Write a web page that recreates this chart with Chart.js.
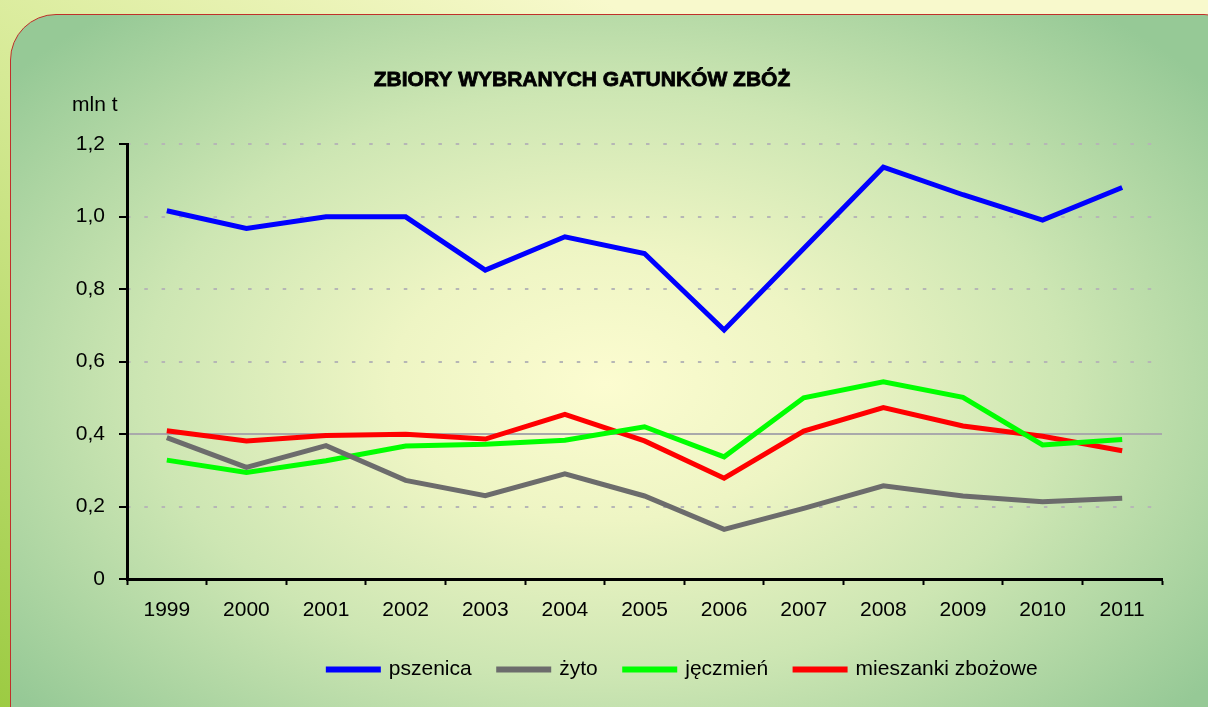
<!DOCTYPE html>
<html>
<head>
<meta charset="utf-8">
<title>Zbiory wybranych gatunków zbóż</title>
<script src="https://cdn.jsdelivr.net/npm/chart.js@4"></script>
<style>
    html, body { margin: 0; padding: 0; }
    body {
        width: 1208px; height: 707px; overflow: hidden; position: relative;
        background: linear-gradient(to top right, #9ccb42 0%, #d6ea96 45%, #f8f9cc 75%);
    }
    #panel {
        position: absolute; left: 10px; top: 14px; width: 1240px; height: 740px;
        box-sizing: border-box; border: 1.5px solid #c0302a; border-radius: 46px;
        background: radial-gradient(ellipse 62% 66% at 48% 50%, #fcfcd0 0%, #eef5c4 28%, #cde6b3 60%, #96c996 100%);
    }
    #wrap { position: absolute; left: 0; top: 0; width: 1208px; height: 707px; }
</style>
</head>
<body>
<div id="panel"></div>
<div id="wrap"><canvas id="wykres" width="1208" height="707"></canvas></div>

<script>
// ---------- Dane (mln t) ----------
const lata = ['1999', '2000', '2001', '2002', '2003', '2004', '2005', '2006', '2007', '2008', '2009', '2010', '2011'];
const pszenica  = [1.016, 0.967, 0.999, 0.999, 0.852, 0.944, 0.898, 0.687, 0.912, 1.136, 1.060, 0.990, 1.080];
const zyto      = [0.390, 0.308, 0.368, 0.272, 0.230, 0.290, 0.229, 0.137, 0.195, 0.257, 0.229, 0.213, 0.223];
const jeczmien  = [0.328, 0.294, 0.326, 0.367, 0.372, 0.383, 0.420, 0.337, 0.500, 0.544, 0.501, 0.370, 0.385];
const mieszanki = [0.409, 0.381, 0.396, 0.399, 0.386, 0.454, 0.381, 0.278, 0.408, 0.473, 0.422, 0.394, 0.354];
const etykietyY = ['0', '0,2', '0,4', '0,6', '0,8', '1,0', '1,2'];

const FONT = "'Liberation Sans', Arial, sans-serif";

// tytuł i jednostka rysowane na canvasie
const napisy = {
    id: 'napisy',
    afterDraw(chart) {
        const c = chart.ctx;
        c.save();
        c.fillStyle = '#000';
        c.strokeStyle = '#000';
        c.textBaseline = 'alphabetic';
        c.font = 'bold 21px ' + FONT;
        c.textAlign = 'center';
        c.lineWidth = 0.8;
        c.fillText('ZBIORY WYBRANYCH GATUNKÓW ZBÓŻ', 582, 86);
        c.strokeText('ZBIORY WYBRANYCH GATUNKÓW ZBÓŻ', 582, 86);
        c.font = '21px ' + FONT;
        c.textAlign = 'left';
        c.fillText('mln t', 72, 111);
        c.restore();
    }
};

// przesunięcie legendy pod wykresem
const legendaPrzesun = {
    id: 'legendaPrzesun',
    afterLayout(chart) {
        const lg = chart.legend;
        if (!lg) return;
        lg.left += 102; lg.right += 102;
        lg.top += 3; lg.bottom += 3;
    }
};

function linia(label, data, kolor, szer) {
    return {
        label: label, data: data,
        borderColor: kolor, backgroundColor: kolor,
        borderWidth: szer, pointRadius: 0, pointHoverRadius: 0,
        tension: 0, fill: false
    };
}

const jest04 = c => c.tick && Math.abs(c.tick.value - 0.4) < 1e-6;

new Chart(document.getElementById('wykres').getContext('2d'), {
    type: 'line',
    data: {
        labels: lata,
        datasets: [
            linia('pszenica', pszenica, '#0000ff', 5),
            linia('żyto', zyto, '#6c6c6c', 5),
            linia('jęczmień', jeczmien, '#00ff00', 5),
            linia('mieszanki zbożowe', mieszanki, '#ff0000', 5)
        ]
    },
    options: {
        responsive: false,
        animation: false,
        events: [],
        layout: { padding: { top: 144, right: 46, bottom: 20, left: 0 } },
        plugins: {
            title: { display: false },
            tooltip: { enabled: false },
            legend: {
                position: 'bottom',
                labels: {
                    boxWidth: 50, boxHeight: 1, padding: 27,
                    color: '#000', font: { family: FONT, size: 21 }
                }
            }
        },
        scales: {
            x: {
                offset: true,
                ticks: { color: '#000', font: { family: FONT, size: 21 }, padding: 13, maxRotation: 0, autoSkip: false },
                grid: { offset: true, drawOnChartArea: false, tickLength: 6, tickColor: '#000', tickWidth: 2 },
                border: { color: '#000', width: 3 },
                afterFit: s => { s.height = 50; }
            },
            y: {
                min: 0, max: 1.2,
                ticks: {
                    stepSize: 0.2, color: '#000', font: { family: FONT, size: 21 }, padding: 14,
                    callback: (v, i) => etykietyY[i]
                },
                grid: {
                    color: c => {
                        if (!c.tick || Math.abs(c.tick.value) < 1e-6) return 'rgba(0,0,0,0)';
                        return jest04(c) ? '#a9a9ab' : '#b6b6b6';
                    },
                    lineWidth: 2,
                    tickLength: 8, tickColor: '#000', tickWidth: 2, tickBorderDash: []
                },
                border: {
                    color: '#000', width: 3,
                    dash: c => (!c.tick || jest04(c)) ? [] : [3.5, 13.8],
                    dashOffset: 2
                },
                afterFit: s => { s.width = 127; }
            }
        }
    },
    plugins: [napisy, legendaPrzesun]
});
</script>
</body>
</html>
